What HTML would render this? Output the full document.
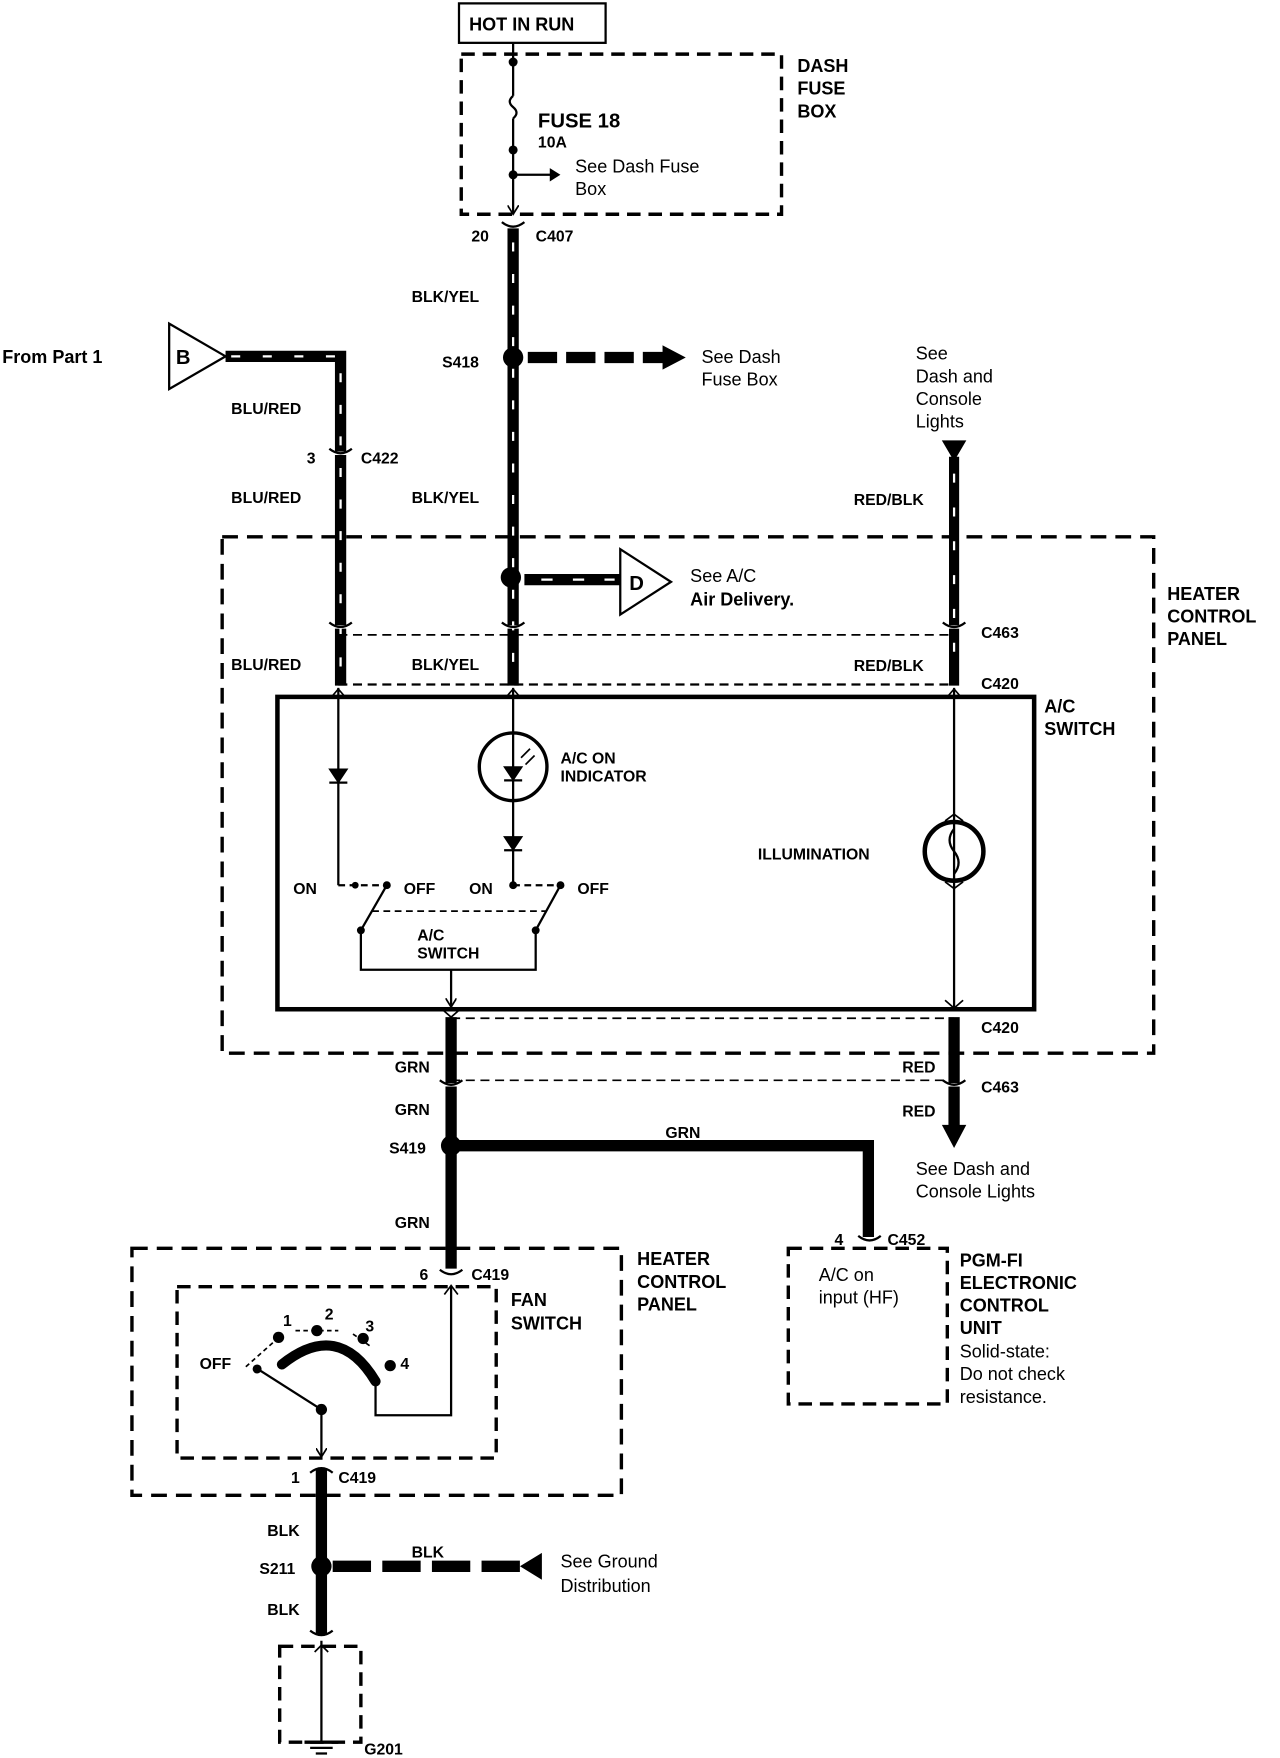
<!DOCTYPE html>
<html><head><style>
html,body{margin:0;padding:0;background:#fff;}
svg{display:block;}
text{font-family:"Liberation Sans",sans-serif;font-weight:bold;fill:#000;font-size:16px;}
.s{font-size:14px;}
.n{font-weight:normal;}
</style></head><body>
<svg width="1280" height="1758" viewBox="0 0 1135 1559" preserveAspectRatio="none" xmlns="http://www.w3.org/2000/svg">
<defs>
<marker id="ar" markerWidth="10" markerHeight="10" refX="8" refY="5" orient="auto" markerUnits="userSpaceOnUse"><path d="M0,0 L8,5 L0,10" fill="none" stroke="#000" stroke-width="1.5"/></marker>
</defs>
<g stroke="#000" fill="none">
<rect x="407" y="3" width="130" height="35" stroke-width="2"/>
<rect x="409" y="48" width="284" height="142" stroke-width="3" stroke-dasharray="12,7"/>
<line x1="455" y1="38" x2="455" y2="85" stroke-width="2"/>
<path d="M455,85 q-6,5 0,10 q6,5 0,10" stroke-width="2"/>
<line x1="455" y1="105" x2="455" y2="190" stroke-width="2" marker-end="url(#ar)"/>
<line x1="455" y1="155" x2="492" y2="155" stroke-width="2"/>
<path d="M488,150 L496,155 L488,160Z" fill="#000"/>
<line x1="455" y1="200" x2="455" y2="608" stroke-width="10"/>
<line x1="455" y1="215" x2="455" y2="600" stroke="#fff" stroke-width="2" stroke-dasharray="8,20"/>
<path d="M200,316 H302 V608" stroke-width="10"/>
<path d="M205,316 H302 V600" stroke="#fff" stroke-width="2" stroke-dasharray="8,20"/>
<line x1="846" y1="405" x2="846" y2="608" stroke-width="9"/>
<line x1="846" y1="420" x2="846" y2="600" stroke="#fff" stroke-width="2" stroke-dasharray="8,22"/>
<line x1="468" y1="317" x2="592" y2="317" stroke-width="10" stroke-dasharray="26,8"/>
<path d="M588,307 L607,317 L588,327Z" fill="#000"/>
<line x1="465" y1="514" x2="552" y2="514" stroke-width="10"/>
<line x1="480" y1="514" x2="545" y2="514" stroke="#fff" stroke-width="2" stroke-dasharray="10,18"/>
<path d="M550,487 L595,516 L550,545Z" stroke-width="2" fill="#fff"/>
<path d="M150,287 L200,316 L150,345Z" stroke-width="2" fill="#fff"/>
<path d="M836,391 L856,391 L846,408Z" fill="#000"/>
<rect x="197" y="476" width="826" height="458" stroke-width="3" stroke-dasharray="14,8"/>
<line x1="300" y1="563" x2="846" y2="563" stroke-width="1.5" stroke-dasharray="8,5"/>
<line x1="300" y1="607" x2="846" y2="607" stroke-width="2" stroke-dasharray="8,5"/>
<g stroke="#fff" stroke-width="3">
<line x1="290" y1="402" x2="314" y2="402"/><line x1="443" y1="201" x2="467" y2="201"/>
<line x1="290" y1="556" x2="314" y2="556"/><line x1="443" y1="556" x2="467" y2="556"/><line x1="834" y1="556" x2="858" y2="556"/>
</g>
<g stroke-width="2">
<path d="M292,398 q10,8 20,0"/><path d="M445,197 q10,8 20,0"/>
<path d="M292,552 q10,8 20,0"/><path d="M445,552 q10,8 20,0"/><path d="M836,552 q10,8 20,0"/>
</g>
<rect x="246" y="618" width="671" height="277" stroke-width="4"/>
<line x1="300" y1="610" x2="300" y2="785" stroke-width="2"/>
<path d="M294,618 l6,-7 l6,7" stroke-width="1.5"/>
<path d="M292,682 L308,682 L300,694Z" fill="#000"/><line x1="292" y1="694" x2="308" y2="694" stroke-width="2"/>
<line x1="455" y1="610" x2="455" y2="785" stroke-width="2"/>
<path d="M449,618 l6,-7 l6,7" stroke-width="1.5"/>
<circle cx="455" cy="680" r="30" stroke-width="3"/>
<path d="M447,680 L463,680 L455,692Z" fill="#000"/><line x1="447" y1="692" x2="463" y2="692" stroke-width="2"/>
<line x1="462" y1="672" x2="470" y2="664" stroke-width="1.5"/><line x1="466" y1="678" x2="474" y2="670" stroke-width="1.5"/>
<path d="M447,742 L463,742 L455,754Z" fill="#000"/><line x1="447" y1="754" x2="463" y2="754" stroke-width="2"/>
<line x1="846" y1="610" x2="846" y2="895" stroke-width="2"/>
<path d="M840,618 l6,-7 l6,7" stroke-width="1.5"/>
<circle cx="846" cy="755" r="26" stroke-width="4"/>
<path d="M838,728 l8,-6 l8,6 M838,782 l8,6 l8,-6" stroke-width="1.5"/>
<path d="M846,735 q-8,10 0,20 q8,10 0,20" stroke-width="2"/>
<line x1="300" y1="785" x2="340" y2="785" stroke-width="2" stroke-dasharray="6,4"/>
<line x1="455" y1="785" x2="495" y2="785" stroke-width="2" stroke-dasharray="6,4"/>
<line x1="320" y1="825" x2="343" y2="785" stroke-width="2"/>
<line x1="475" y1="825" x2="497" y2="785" stroke-width="2"/>
<line x1="330" y1="808" x2="485" y2="808" stroke-width="1.5" stroke-dasharray="6,4"/>
<path d="M320,825 V860 H475 V825" stroke-width="2"/>
<line x1="400" y1="860" x2="400" y2="893" stroke-width="2" marker-end="url(#ar)"/>
<path d="M838,887 l8,7 l8,-7" stroke-width="1.5"/>
<line x1="400" y1="902" x2="400" y2="1125" stroke-width="10"/>
<line x1="846" y1="902" x2="846" y2="1000" stroke-width="10"/>
<path d="M836,998 L856,998 L846,1017Z" fill="#000"/>
<line x1="400" y1="903" x2="846" y2="903" stroke-width="1.5" stroke-dasharray="8,5"/>
<line x1="400" y1="958" x2="846" y2="958" stroke-width="1.5" stroke-dasharray="8,5"/>
<g stroke="#fff" stroke-width="3">
<line x1="388" y1="962" x2="412" y2="962"/><line x1="834" y1="962" x2="858" y2="962"/>
<line x1="388" y1="1130" x2="412" y2="1130"/><line x1="760" y1="1100" x2="782" y2="1100"/>
<line x1="273" y1="1300" x2="297" y2="1300"/><line x1="273" y1="1450" x2="297" y2="1450"/>
</g>
<g stroke-width="2">
<path d="M390,958 q10,8 20,0"/><path d="M836,958 q10,8 20,0"/><path d="M390,1126 q10,8 20,0"/>
<path d="M761,1096 q10,8 20,0"/><path d="M275,1306 q10,-8 20,0"/><path d="M275,1446 q10,8 20,0"/>
<path d="M392,895 l8,7 l8,-7" stroke-width="1.5"/>
</g>
<path d="M405,1016 H770 V1097" stroke-width="10"/>
<rect x="117" y="1107" width="434" height="219" stroke-width="3" stroke-dasharray="14,8"/>
<rect x="157" y="1141" width="283" height="152" stroke-width="3" stroke-dasharray="12,7"/>
<path d="M333,1225 V1255 H400 V1140" stroke-width="2"/>
<path d="M394,1148 l6,-8 l6,8" stroke-width="1.5"/>
<path d="M250,1210 Q300,1170 333,1225" stroke-width="9" stroke-linecap="round"/>
<line x1="285" y1="1250" x2="230" y2="1215" stroke-width="2"/>
<line x1="285" y1="1250" x2="285" y2="1292" stroke-width="2" marker-end="url(#ar)"/>
<line x1="285" y1="1302" x2="285" y2="1450" stroke-width="10"/>
<line x1="295" y1="1389" x2="462" y2="1389" stroke-width="10" stroke-dasharray="34,10"/>
<path d="M480,1378 L480,1400 L462,1389Z" fill="#000"/>
<path d="M218,1212 L245,1188 M262,1180 L300,1180 M313,1183 L330,1195" stroke-width="1.5" stroke-dasharray="4,3"/>
<rect x="248" y="1460" width="72" height="85" stroke-width="3" stroke-dasharray="12,7"/>
<line x1="285" y1="1455" x2="285" y2="1545" stroke-width="2"/>
<path d="M279,1465 l6,-6 l6,6" stroke-width="1.5"/>
<line x1="270" y1="1545" x2="300" y2="1545" stroke-width="3"/><line x1="275" y1="1550" x2="295" y2="1550" stroke-width="2"/><line x1="280" y1="1555" x2="290" y2="1555" stroke-width="2"/>
<rect x="699" y="1107" width="141" height="138" stroke-width="3" stroke-dasharray="12,7"/>
</g>
<g fill="#000">
<circle cx="455" cy="55" r="4"/><circle cx="455" cy="133" r="4"/><circle cx="455" cy="155" r="4"/>
<circle cx="455" cy="317" r="9"/><circle cx="453" cy="512" r="9"/>
<circle cx="400" cy="1016" r="9"/><circle cx="285" cy="1389" r="9"/>
<circle cx="343" cy="785" r="3.5"/><circle cx="320" cy="825" r="3.5"/><circle cx="455" cy="785" r="3.5"/><circle cx="497" cy="785" r="3.5"/><circle cx="475" cy="825" r="3.5"/><circle cx="315" cy="785" r="3"/>
<circle cx="285" cy="1250" r="5"/><circle cx="228" cy="1214" r="4"/>
<circle cx="247" cy="1186" r="5"/><circle cx="281" cy="1180" r="5"/><circle cx="322" cy="1187" r="5"/><circle cx="346" cy="1211" r="5"/>
</g>
<text x="416" y="27">HOT IN RUN</text>
<text x="707" y="64">DASH</text><text x="707" y="84">FUSE</text><text x="707" y="104">BOX</text>
<text x="477" y="113" style="font-size:18px">FUSE 18</text>
<text x="477" y="131" class="s">10A</text>
<text x="510" y="153" class="n">See Dash Fuse</text><text x="510" y="173" class="n">Box</text>
<text x="418" y="214" class="s">20</text><text x="475" y="214" class="s">C407</text>
<text x="365" y="268" class="s">BLK/YEL</text>
<text x="392" y="326" class="s">S418</text>
<text x="622" y="322" class="n">See Dash</text><text x="622" y="342" class="n">Fuse Box</text>
<text x="2" y="322">From Part 1</text>
<text x="156" y="323" style="font-size:18px">B</text>
<text x="205" y="367" class="s">BLU/RED</text>
<text x="272" y="411" class="s">3</text><text x="320" y="411" class="s">C422</text>
<text x="205" y="446" class="s">BLU/RED</text><text x="365" y="446" class="s">BLK/YEL</text>
<text x="812" y="319" class="n">See</text><text x="812" y="339" class="n">Dash and</text><text x="812" y="359" class="n">Console</text><text x="812" y="379" class="n">Lights</text>
<text x="757" y="448" class="s">RED/BLK</text>
<text x="558" y="523" style="font-size:18px">D</text>
<text x="612" y="516" class="n">See A/C</text><text x="612" y="537">Air Delivery.</text>
<text x="1035" y="532">HEATER</text><text x="1035" y="552">CONTROL</text><text x="1035" y="572">PANEL</text>
<text x="870" y="566" class="s">C463</text><text x="870" y="611" class="s">C420</text>
<text x="205" y="594" class="s">BLU/RED</text><text x="365" y="594" class="s">BLK/YEL</text><text x="757" y="595" class="s">RED/BLK</text>
<text x="926" y="632">A/C</text><text x="926" y="652">SWITCH</text>
<text x="497" y="677" class="s">A/C ON</text><text x="497" y="693" class="s">INDICATOR</text>
<text x="672" y="762" class="s">ILLUMINATION</text>
<text x="260" y="793" class="s">ON</text><text x="358" y="793" class="s">OFF</text><text x="416" y="793" class="s">ON</text><text x="512" y="793" class="s">OFF</text>
<text x="370" y="834" class="s">A/C</text><text x="370" y="850" class="s">SWITCH</text>
<text x="870" y="916" class="s">C420</text>
<text x="350" y="951" class="s">GRN</text><text x="800" y="951" class="s">RED</text>
<text x="870" y="969" class="s">C463</text>
<text x="350" y="989" class="s">GRN</text><text x="800" y="990" class="s">RED</text>
<text x="345" y="1023" class="s">S419</text><text x="590" y="1009" class="s">GRN</text>
<text x="812" y="1042" class="n">See Dash and</text><text x="812" y="1062" class="n">Console Lights</text>
<text x="350" y="1089" class="s">GRN</text>
<text x="372" y="1135" class="s">6</text><text x="418" y="1135" class="s">C419</text>
<text x="565" y="1122">HEATER</text><text x="565" y="1142">CONTROL</text><text x="565" y="1162">PANEL</text>
<text x="453" y="1158">FAN</text><text x="453" y="1179">SWITCH</text>
<text x="251" y="1176" class="s">1</text><text x="288" y="1170" class="s">2</text><text x="324" y="1181" class="s">3</text><text x="355" y="1214" class="s">4</text>
<text x="177" y="1214" class="s">OFF</text>
<text x="258" y="1315" class="s">1</text><text x="300" y="1315" class="s">C419</text>
<text x="237" y="1362" class="s">BLK</text><text x="365" y="1381" class="s">BLK</text>
<text x="230" y="1396" class="s">S211</text>
<text x="497" y="1390" class="n">See Ground</text><text x="497" y="1412" class="n">Distribution</text>
<text x="237" y="1432" class="s">BLK</text>
<text x="323" y="1556" class="s">G201</text>
<text x="740" y="1104" class="s">4</text><text x="787" y="1104" class="s">C452</text>
<text x="726" y="1136" class="n">A/C on</text><text x="726" y="1156" class="n">input (HF)</text>
<text x="851" y="1123">PGM-FI</text><text x="851" y="1143">ELECTRONIC</text><text x="851" y="1163">CONTROL</text><text x="851" y="1183">UNIT</text>
<text x="851" y="1204" class="n">Solid-state:</text><text x="851" y="1224" class="n">Do not check</text><text x="851" y="1244" class="n">resistance.</text>
</svg>
</body></html>
